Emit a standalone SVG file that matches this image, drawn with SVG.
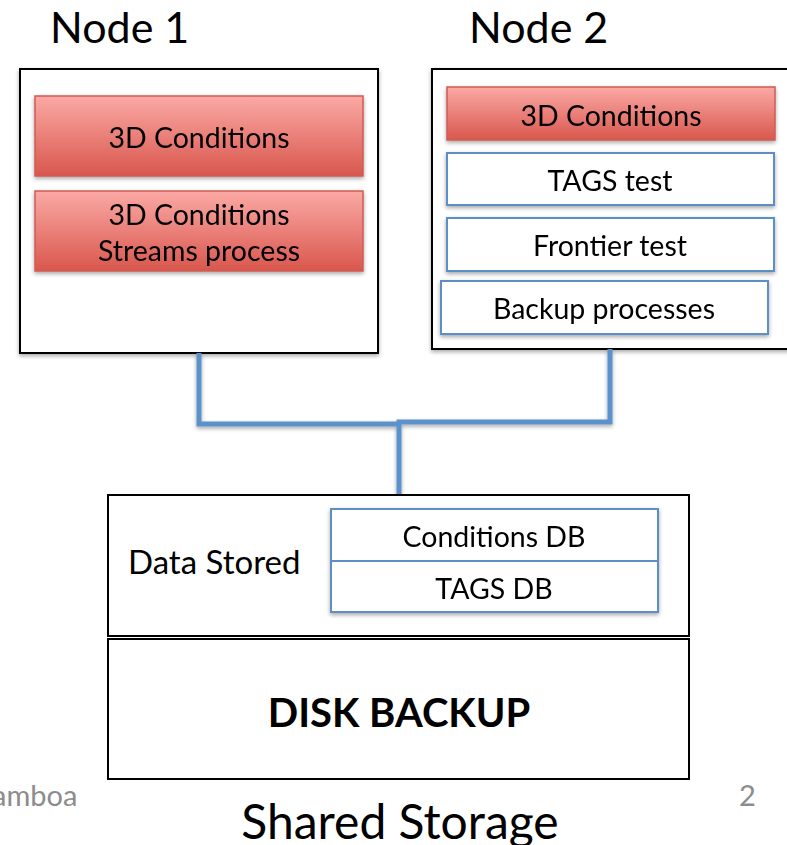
<svg xmlns="http://www.w3.org/2000/svg" width="787" height="845" viewBox="0 0 787 845">
<defs>
<linearGradient id="red" x1="0" y1="0" x2="0" y2="1">
<stop offset="0" stop-color="#fba9a5"/>
<stop offset="1" stop-color="#d9574d"/>
</linearGradient>
<filter id="sh" x="-5%" y="-10%" width="110%" height="130%">
<feGaussianBlur in="SourceAlpha" stdDeviation="2"/>
<feOffset dx="0" dy="2" result="b"/>
<feComponentTransfer><feFuncA type="linear" slope="0.35"/></feComponentTransfer>
<feMerge><feMergeNode/><feMergeNode in="SourceGraphic"/></feMerge>
</filter>
</defs>
<style>
text{font-family:Lato,"Open Sans","Liberation Sans",sans-serif;fill:#000}
.frame{fill:#fff;stroke:#000;stroke-width:2}
.redbox{fill:url(#red);stroke:#cf5b54;stroke-width:1.5}
.bluebox{fill:#fff;stroke:#5b8fc8;stroke-width:2}
.lbl{font-size:28.5px;text-anchor:middle}
.title{font-size:43px}
.conn{fill:none;stroke:#5b92cb;stroke-width:5}
.foot{font-size:29px;fill:#8c8c8c}
</style>
<rect width="787" height="845" fill="#fff"/>

<text class="title" x="50" y="43">Node 1</text>
<text class="title" x="469" y="43">Node 2</text>

<g id="node1">
<rect class="frame" x="20" y="69" width="358" height="284" filter="url(#sh)"/>
<g id="n1-cond" filter="url(#sh)">
<rect class="redbox" x="35" y="96" width="328" height="80"/>
<text class="lbl" x="199" y="148">3D Conditions</text>
</g>
<g id="n1-streams" filter="url(#sh)">
<rect class="redbox" x="35" y="191" width="328" height="80"/>
<text class="lbl" x="199" y="225">3D Conditions</text>
<text class="lbl" x="199" y="261">Streams process</text>
</g>
</g>

<g id="node2">
<rect class="frame" x="432" y="69" width="360" height="280" filter="url(#sh)"/>
<g id="n2-cond" filter="url(#sh)">
<rect class="redbox" x="447" y="87" width="328" height="53"/>
<text class="lbl" x="611" y="126">3D Conditions</text>
</g>
<g id="n2-tags" filter="url(#sh)">
<rect class="bluebox" x="447" y="153" width="327" height="52"/>
<text class="lbl" x="610" y="191">TAGS test</text>
</g>
<g id="n2-frontier" filter="url(#sh)">
<rect class="bluebox" x="447" y="218" width="327" height="53"/>
<text class="lbl" x="610" y="256">Frontier test</text>
</g>
<g id="n2-backup" filter="url(#sh)">
<rect class="bluebox" x="441" y="281" width="327" height="53"/>
<text class="lbl" x="604" y="319">Backup processes</text>
</g>
</g>

<g id="connectors">
<path class="conn" d="M199 353 V424 H399 M610 349 V422 H399 V494" filter="url(#sh)"/>
</g>

<g id="storage">
<rect class="frame" x="108" y="495" width="581" height="141"/>
<text x="128" y="574" style="font-size:33px">Data Stored</text>
<g id="db-table" filter="url(#sh)">
<rect class="bluebox" x="331" y="509" width="327" height="103"/>
<line x1="331" y1="561" x2="658" y2="561" stroke="#5b8fc8" stroke-width="2"/>
<text class="lbl" x="494" y="547">Conditions DB</text>
<text class="lbl" x="494" y="599">TAGS DB</text>
</g>
</g>

<g id="disk-backup">
<rect class="frame" x="108" y="639" width="581" height="140"/>
<text x="399" y="727" style="font-size:40px;font-weight:bold;text-anchor:middle">DISK BACKUP</text>
</g>

<text x="400" y="839" style="font-size:48px;text-anchor:middle">Shared Storage</text>
<text class="foot" x="-8" y="806">amboa</text>
<text class="foot" x="739" y="806">2</text>
</svg>
